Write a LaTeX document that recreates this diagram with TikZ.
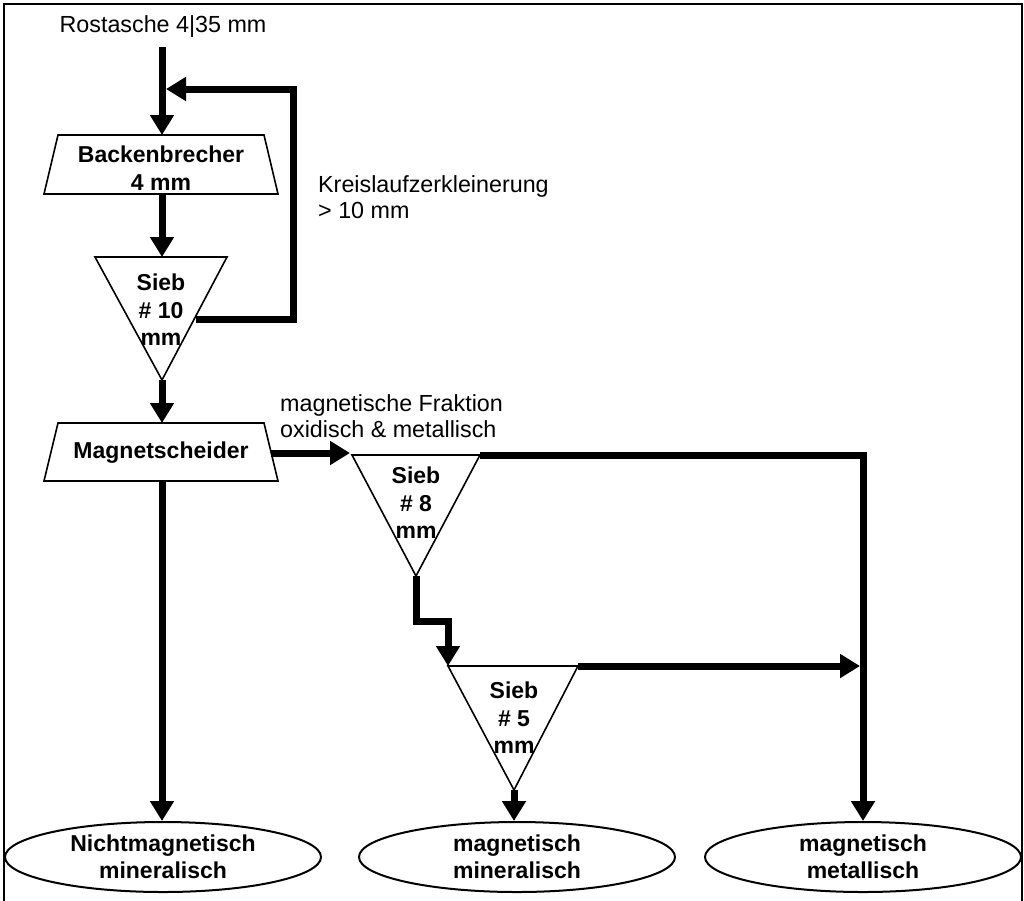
\documentclass[tikz,border=0pt]{standalone}
\usepackage{fontspec}
\setmainfont{Liberation Sans}
\usetikzlibrary{arrows.meta,shapes.geometric}
\begin{document}
\begin{tikzpicture}[x=1pt,y=-1pt,
  shapeline/.style={draw=black,line width=1.6pt,fill=white,line join=miter},
  flow/.style={draw=black,line width=7pt,line join=miter,-{Triangle[length=20pt,width=23pt]}},
  boldlabel/.style={font=\fontsize{23}{27.5}\selectfont\bfseries,align=center,inner sep=0pt},
  plainlabel/.style={font=\fontsize{23.3}{26.5}\selectfont,align=left,inner sep=0pt},
  endnode/.style={draw=black,line width=2pt,ellipse,minimum width=316pt,minimum height=70pt,inner sep=0pt,
    font=\fontsize{23}{27.5}\selectfont\bfseries,align=center}
]
\useasboundingbox (0,0) rectangle (1024,900);
\draw[line width=2pt] (4,903) -- (4,4) -- (1022,4) -- (1022,903);

% coordinates of shape corners
\coordinate (bbTL) at (58,135);  \coordinate (bbTR) at (264,135);
\coordinate (bbBR) at (278,194); \coordinate (bbBL) at (44,194);
\coordinate (s10L) at (95,257);  \coordinate (s10R) at (227,257); \coordinate (s10A) at (162,380);
\coordinate (msTL) at (58,423);  \coordinate (msTR) at (264,423);
\coordinate (msBR) at (278,481); \coordinate (msBL) at (44,481);
\coordinate (s8L) at (352,455);  \coordinate (s8R) at (480,455); \coordinate (s8A) at (416,576);
\coordinate (s5L) at (448,666);  \coordinate (s5R) at (578,666); \coordinate (s5A) at (514,790);

% shapes
\draw[shapeline] (bbTL) -- (bbTR) -- (bbBR) -- (bbBL) -- cycle;
\draw[shapeline] (s10L) -- (s10R) -- (s10A) -- cycle;
\draw[shapeline] (msTL) -- (msTR) -- (msBR) -- (msBL) -- cycle;
\draw[shapeline] (s8L) -- (s8R) -- (s8A) -- cycle;
\draw[shapeline] (s5L) -- (s5R) -- (s5A) -- cycle;

% text nodes
\node[plainlabel] (start) at (163,27) {Rostasche 4|35 mm};
\node[boldlabel] (bb) at (161,168) {Backenbrecher\\4 mm};
\node[boldlabel] (s10) at (161,310) {Sieb\\\# 10\\mm};
\node[boldlabel] (ms) at (161,453) {Magnetscheider};
\node[boldlabel] (s8) at (416,503) {Sieb\\\# 8\\mm};
\node[boldlabel] (s5) at (514,718) {Sieb\\\# 5\\mm};
\node[plainlabel,anchor=west] (kreis) at (318,197) {Kreislaufzerkleinerung\\> 10 mm};
\node[plainlabel,anchor=west] (magfrak) at (280,416) {magnetische Fraktion\\oxidisch \& metallisch};

\node[endnode] (e1) at (163,857) {Nichtmagnetisch\\mineralisch};
\node[endnode] (e2) at (517,857) {magnetisch\\mineralisch};
\node[endnode] (e3) at (863,857) {magnetisch\\metallisch};

% helper coordinates
\coordinate (in0) at (162,47);
\coordinate (bbT) at (162,135);
\coordinate (bbB) at (162,194);
\coordinate (s10T) at (162,257);
\coordinate (s10out) at (196,319);
\coordinate (fb1) at (293,319);
\coordinate (fb2) at (293,89);
\coordinate (fbT) at (166,89);
\coordinate (msT) at (162,423);
\coordinate (msR) at (271,453);
\coordinate (msB) at (162,481);
\coordinate (s8in) at (350,453);
\coordinate (r1) at (863,455);
\coordinate (st1) at (416,621);
\coordinate (st2) at (448,621);
\coordinate (s5hit) at (860,666);

% connectors
\draw[flow] (in0) -- (bbT);
\draw[flow] (s10out) -- (fb1) -- (fb2) -- (fbT);
\draw[flow] (bbB) -- (s10T);
\draw[flow] (s10A) -- (msT);
\draw[flow] (msR) -- (s8in);
\draw[flow] (s8R) -- (r1) -- (e3.north);
\draw[flow] (s8A) -- (st1) -- (st2) -- (s5L);
\draw[flow] (s5R) -- (s5hit);
\draw[flow] (s5A) -- (s5A |- e2.north);
\draw[flow] (msB) -- (msB |- e1.north);
\end{tikzpicture}
\end{document}
